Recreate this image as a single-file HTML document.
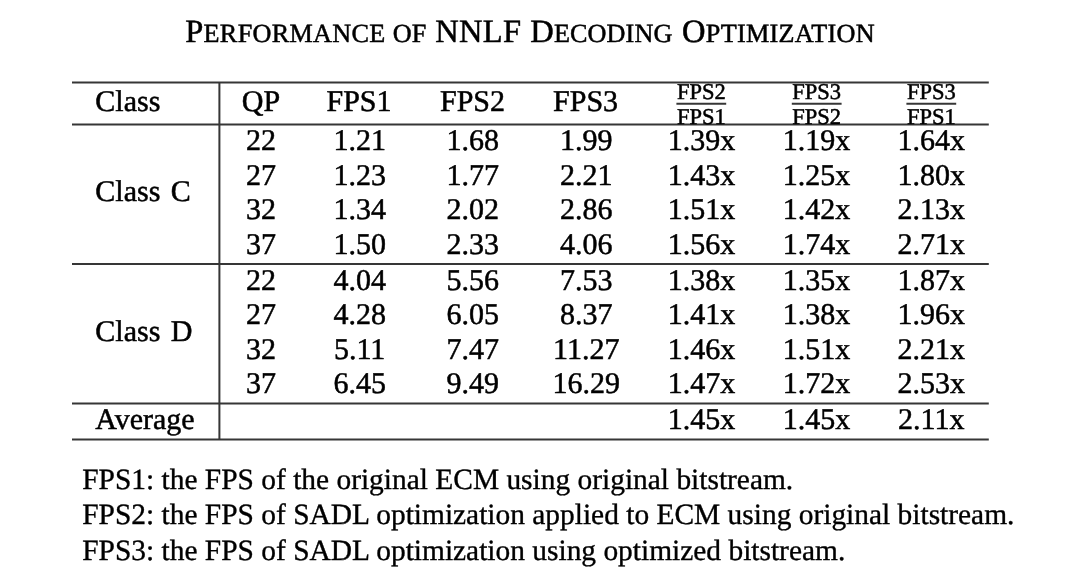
<!DOCTYPE html>
<html lang="en">
<head>
<meta charset="utf-8">
<title>Performance of NNLF Decoding Optimization</title>
<style>
html,body{margin:0;padding:0;background:#fff;}
body{will-change:transform;width:1080px;height:581px;position:relative;overflow:hidden;text-rendering:geometricPrecision;font-family:"Liberation Serif","Times New Roman",serif;color:#000;}
.t{position:absolute;white-space:nowrap;line-height:1;font-size:30px;-webkit-text-stroke:0.5px #000;}
.c{width:200px;text-align:center;}
.f{font-size:22.5px;}
.rules{position:absolute;left:0;top:0;}

</style>
</head>
<body>
<header>
<div class="t" style="left:185.20px;top:16.00px;font-size:32.5px;letter-spacing:0.3px;">P<span style="font-size:26.2px">ERFORMANCE</span></div>
<div class="t" style="left:392.80px;top:16.00px;font-size:32.5px;letter-spacing:0px;"><span style="font-size:26.2px">OF</span></div>
<div class="t" style="left:435.30px;top:16.00px;font-size:32.5px;letter-spacing:0.3px;">NNLF</div>
<div class="t" style="left:530.30px;top:16.00px;font-size:32.5px;letter-spacing:0.1px;">D<span style="font-size:26.2px">ECODING</span></div>
<div class="t" style="left:682.00px;top:16.00px;font-size:32.5px;letter-spacing:0.3px;">O<span style="font-size:26.2px">PTIMIZATION</span></div>
</header>
<main>
<svg class="rules" width="1080" height="581" viewBox="0 0 1080 581" fill="none" stroke="#363636" stroke-width="2.0">
<line x1="72.00" y1="82.50" x2="988.80" y2="82.50"/>
<line x1="72.00" y1="124.60" x2="988.80" y2="124.60"/>
<line x1="72.00" y1="264.10" x2="988.80" y2="264.10"/>
<line x1="72.00" y1="403.60" x2="988.80" y2="403.60"/>
<line x1="72.00" y1="439.50" x2="988.80" y2="439.50"/>
<line x1="219.40" y1="82.50" x2="219.40" y2="439.50"/>
<line x1="676.40" y1="103.70" x2="726.20" y2="103.70" stroke-width="2.0"/>
<line x1="791.80" y1="103.70" x2="841.60" y2="103.70" stroke-width="2.0"/>
<line x1="906.40" y1="103.70" x2="956.20" y2="103.70" stroke-width="2.0"/>
</svg>
<div class="t" style="left:95.30px;top:87.00px;">Class</div>
<div class="t c" style="left:161.00px;top:87.00px;">QP</div>
<div class="t c" style="left:259.00px;top:87.00px;">FPS1</div>
<div class="t c" style="left:372.50px;top:87.00px;">FPS2</div>
<div class="t c" style="left:485.60px;top:87.00px;">FPS3</div>
<div class="t c" style="left:601.30px;top:81.00px;font-size:22.5px;">FPS2</div>
<div class="t c" style="left:601.30px;top:106.00px;font-size:22.5px;">FPS1</div>
<div class="t c" style="left:716.70px;top:81.00px;font-size:22.5px;">FPS3</div>
<div class="t c" style="left:716.70px;top:106.00px;font-size:22.5px;">FPS2</div>
<div class="t c" style="left:831.30px;top:81.00px;font-size:22.5px;">FPS3</div>
<div class="t c" style="left:831.30px;top:106.00px;font-size:22.5px;">FPS1</div>
<div class="t c" style="left:161.00px;top:126.00px;">22</div>
<div class="t c" style="left:259.70px;top:126.00px;">1.21</div>
<div class="t c" style="left:372.80px;top:126.00px;">1.68</div>
<div class="t c" style="left:486.30px;top:126.00px;">1.99</div>
<div class="t c" style="left:601.40px;top:126.00px;">1.39x</div>
<div class="t c" style="left:716.50px;top:126.00px;">1.19x</div>
<div class="t c" style="left:831.30px;top:126.00px;">1.64x</div>
<div class="t c" style="left:161.00px;top:161.00px;">27</div>
<div class="t c" style="left:259.70px;top:161.00px;">1.23</div>
<div class="t c" style="left:372.80px;top:161.00px;">1.77</div>
<div class="t c" style="left:486.30px;top:161.00px;">2.21</div>
<div class="t c" style="left:601.40px;top:161.00px;">1.43x</div>
<div class="t c" style="left:716.50px;top:161.00px;">1.25x</div>
<div class="t c" style="left:831.30px;top:161.00px;">1.80x</div>
<div class="t c" style="left:161.00px;top:195.00px;">32</div>
<div class="t c" style="left:259.70px;top:195.00px;">1.34</div>
<div class="t c" style="left:372.80px;top:195.00px;">2.02</div>
<div class="t c" style="left:486.30px;top:195.00px;">2.86</div>
<div class="t c" style="left:601.40px;top:195.00px;">1.51x</div>
<div class="t c" style="left:716.50px;top:195.00px;">1.42x</div>
<div class="t c" style="left:831.30px;top:195.00px;">2.13x</div>
<div class="t c" style="left:161.00px;top:230.00px;">37</div>
<div class="t c" style="left:259.70px;top:230.00px;">1.50</div>
<div class="t c" style="left:372.80px;top:230.00px;">2.33</div>
<div class="t c" style="left:486.30px;top:230.00px;">4.06</div>
<div class="t c" style="left:601.40px;top:230.00px;">1.56x</div>
<div class="t c" style="left:716.50px;top:230.00px;">1.74x</div>
<div class="t c" style="left:831.30px;top:230.00px;">2.71x</div>
<div class="t c" style="left:161.00px;top:266.00px;">22</div>
<div class="t c" style="left:259.70px;top:266.00px;">4.04</div>
<div class="t c" style="left:372.80px;top:266.00px;">5.56</div>
<div class="t c" style="left:486.30px;top:266.00px;">7.53</div>
<div class="t c" style="left:601.40px;top:266.00px;">1.38x</div>
<div class="t c" style="left:716.50px;top:266.00px;">1.35x</div>
<div class="t c" style="left:831.30px;top:266.00px;">1.87x</div>
<div class="t c" style="left:161.00px;top:300.00px;">27</div>
<div class="t c" style="left:259.70px;top:300.00px;">4.28</div>
<div class="t c" style="left:372.80px;top:300.00px;">6.05</div>
<div class="t c" style="left:486.30px;top:300.00px;">8.37</div>
<div class="t c" style="left:601.40px;top:300.00px;">1.41x</div>
<div class="t c" style="left:716.50px;top:300.00px;">1.38x</div>
<div class="t c" style="left:831.30px;top:300.00px;">1.96x</div>
<div class="t c" style="left:161.00px;top:335.00px;">32</div>
<div class="t c" style="left:259.70px;top:335.00px;">5.11</div>
<div class="t c" style="left:372.80px;top:335.00px;">7.47</div>
<div class="t c" style="left:486.30px;top:335.00px;">11.27</div>
<div class="t c" style="left:601.40px;top:335.00px;">1.46x</div>
<div class="t c" style="left:716.50px;top:335.00px;">1.51x</div>
<div class="t c" style="left:831.30px;top:335.00px;">2.21x</div>
<div class="t c" style="left:161.00px;top:369.00px;">37</div>
<div class="t c" style="left:259.70px;top:369.00px;">6.45</div>
<div class="t c" style="left:372.80px;top:369.00px;">9.49</div>
<div class="t c" style="left:486.30px;top:369.00px;">16.29</div>
<div class="t c" style="left:601.40px;top:369.00px;">1.47x</div>
<div class="t c" style="left:716.50px;top:369.00px;">1.72x</div>
<div class="t c" style="left:831.30px;top:369.00px;">2.53x</div>
<div class="t" style="left:95.30px;top:177.00px;word-spacing:3px;">Class C</div>
<div class="t" style="left:95.30px;top:317.00px;word-spacing:3px;">Class D</div>
<div class="t" style="left:95.30px;top:405.00px;">Average</div>
<div class="t c" style="left:601.40px;top:405.00px;">1.45x</div>
<div class="t c" style="left:716.50px;top:405.00px;">1.45x</div>
<div class="t c" style="left:831.30px;top:405.00px;">2.11x</div>
</main>
<footer>
<div class="t" style="left:82.20px;top:466.00px;font-size:29.43px;-webkit-text-stroke-width:0.35px;">FPS1: the FPS of the original ECM using original bitstream.</div>
<div class="t" style="left:82.20px;top:501.00px;font-size:29.43px;-webkit-text-stroke-width:0.35px;">FPS2: the FPS of SADL optimization applied to ECM using original bitstream.</div>
<div class="t" style="left:82.20px;top:537.00px;font-size:29.43px;-webkit-text-stroke-width:0.35px;">FPS3: the FPS of SADL optimization using optimized bitstream.</div>
</footer>
</body>
</html>
